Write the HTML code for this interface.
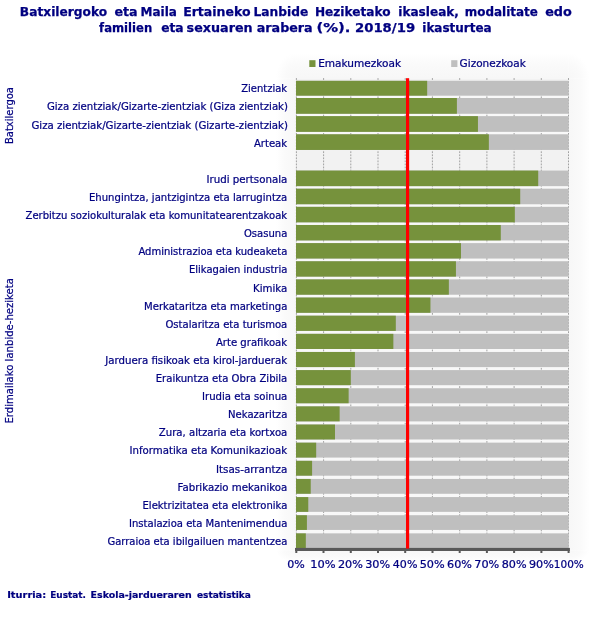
<!DOCTYPE html>
<html lang="eu"><head><meta charset="utf-8"><title>Batxilergoko eta Maila Ertaineko Lanbide Heziketako ikasleak</title>
<style>html,body{margin:0;padding:0;background:#fff}svg{display:block}text{font-family:"DejaVu Sans","Liberation Sans",sans-serif;fill:#000080}.t{font-weight:bold;font-size:12px;stroke:#000080;stroke-width:.25px}.l{font-size:10px;stroke:#000080;stroke-width:.22px}.f{font-weight:bold;font-size:9.33px;stroke:#000080;stroke-width:.2px}</style></head><body>
<svg width="612" height="621" viewBox="0 0 612 621">
<defs><linearGradient id="gl" x1="1" y1="0" x2="0" y2="0"><stop offset="0" stop-color="#f7f7f7"/><stop offset=".55" stop-color="#fafafa"/><stop offset="1" stop-color="#fff"/></linearGradient><linearGradient id="gr" x1="0" y1="0" x2="1" y2="0"><stop offset="0" stop-color="#f7f7f7"/><stop offset=".55" stop-color="#fafafa"/><stop offset="1" stop-color="#fff"/></linearGradient><linearGradient id="gt" x1="0" y1="1" x2="0" y2="0"><stop offset="0" stop-color="#f7f7f7"/><stop offset=".55" stop-color="#fafafa"/><stop offset="1" stop-color="#fff"/></linearGradient><linearGradient id="gb" x1="0" y1="0" x2="0" y2="1"><stop offset="0" stop-color="#f7f7f7"/><stop offset=".55" stop-color="#fafafa"/><stop offset="1" stop-color="#fff"/></linearGradient><radialGradient id="c1" cx="1" cy="1" r="1"><stop offset="0" stop-color="#f7f7f7"/><stop offset=".55" stop-color="#fafafa"/><stop offset="1" stop-color="#fff"/></radialGradient><radialGradient id="c2" cx="0" cy="1" r="1"><stop offset="0" stop-color="#f7f7f7"/><stop offset=".55" stop-color="#fafafa"/><stop offset="1" stop-color="#fff"/></radialGradient><radialGradient id="c3" cx="1" cy="0" r="1"><stop offset="0" stop-color="#f7f7f7"/><stop offset=".55" stop-color="#fafafa"/><stop offset="1" stop-color="#fff"/></radialGradient><radialGradient id="c4" cx="0" cy="0" r="1"><stop offset="0" stop-color="#f7f7f7"/><stop offset=".55" stop-color="#fafafa"/><stop offset="1" stop-color="#fff"/></radialGradient></defs>
<rect width="612" height="621" fill="#fff"/>
<rect x="276.0" y="78.6" width="20.0" height="471.6" fill="url(#gl)"/>
<rect x="568.7" y="78.6" width="21.0" height="471.6" fill="url(#gr)"/>
<rect x="296.0" y="53.1" width="272.7" height="25.5" fill="url(#gt)"/>
<rect x="296.0" y="550.3" width="272.7" height="12.0" fill="url(#gb)"/>
<rect x="276.0" y="53.1" width="20.0" height="25.5" fill="url(#c1)"/>
<rect x="568.7" y="53.1" width="21.0" height="25.5" fill="url(#c2)"/>
<rect x="276.0" y="550.3" width="20.0" height="12.0" fill="url(#c3)"/>
<rect x="568.7" y="550.3" width="21.0" height="12.0" fill="url(#c4)"/>
<rect x="296.0" y="78.6" width="272.7" height="471.6" fill="#f2f2f2"/>
<rect x="296.0" y="95.66" width="272.7" height="2.34" fill="#f8f8f8"/>
<rect x="296.0" y="113.75" width="272.7" height="2.39" fill="#f8f8f8"/>
<rect x="296.0" y="131.85" width="272.7" height="2.43" fill="#f8f8f8"/>
<rect x="296.0" y="186.13" width="272.7" height="2.56" fill="#f8f8f8"/>
<rect x="296.0" y="204.23" width="272.7" height="2.61" fill="#f8f8f8"/>
<rect x="296.0" y="222.33" width="272.7" height="2.66" fill="#f8f8f8"/>
<rect x="296.0" y="240.42" width="272.7" height="2.70" fill="#f8f8f8"/>
<rect x="296.0" y="258.51" width="272.7" height="2.75" fill="#f8f8f8"/>
<rect x="296.0" y="276.61" width="272.7" height="2.79" fill="#f8f8f8"/>
<rect x="296.0" y="294.71" width="272.7" height="2.83" fill="#f8f8f8"/>
<rect x="296.0" y="312.80" width="272.7" height="2.88" fill="#f8f8f8"/>
<rect x="296.0" y="330.89" width="272.7" height="2.93" fill="#f8f8f8"/>
<rect x="296.0" y="348.99" width="272.7" height="2.97" fill="#f8f8f8"/>
<rect x="296.0" y="367.09" width="272.7" height="3.01" fill="#f8f8f8"/>
<rect x="296.0" y="385.18" width="272.7" height="3.06" fill="#f8f8f8"/>
<rect x="296.0" y="403.28" width="272.7" height="3.10" fill="#f8f8f8"/>
<rect x="296.0" y="421.37" width="272.7" height="3.15" fill="#f8f8f8"/>
<rect x="296.0" y="439.47" width="272.7" height="3.19" fill="#f8f8f8"/>
<rect x="296.0" y="457.56" width="272.7" height="3.24" fill="#f8f8f8"/>
<rect x="296.0" y="475.66" width="272.7" height="3.29" fill="#f8f8f8"/>
<rect x="296.0" y="493.75" width="272.7" height="3.33" fill="#f8f8f8"/>
<rect x="296.0" y="511.85" width="272.7" height="3.38" fill="#f8f8f8"/>
<rect x="296.0" y="529.94" width="272.7" height="3.42" fill="#f8f8f8"/>
<path d="M296.4 78.1V550.3M323.6 78.1V550.3M350.8 78.1V550.3M378.0 78.1V550.3M405.2 78.1V550.3M432.4 78.1V550.3M459.7 78.1V550.3M486.9 78.1V550.3M514.1 78.1V550.3M541.3 78.1V550.3M568.5 78.1V550.3" stroke="#a0a0a0" stroke-width="1" stroke-dasharray="1.8 1.25" fill="none"/>
<rect x="296.0" y="80.80" width="272.70" height="14.86" fill="#bfbfbf"/>
<rect x="296.0" y="80.80" width="131.17" height="14.86" fill="#76923c"/>
<rect x="296.0" y="98.00" width="272.70" height="15.76" fill="#bfbfbf"/>
<rect x="296.0" y="98.00" width="160.89" height="15.76" fill="#76923c"/>
<rect x="296.0" y="116.14" width="272.70" height="15.71" fill="#bfbfbf"/>
<rect x="296.0" y="116.14" width="181.95" height="15.71" fill="#76923c"/>
<rect x="296.0" y="134.28" width="272.70" height="15.67" fill="#bfbfbf"/>
<rect x="296.0" y="134.28" width="192.85" height="15.67" fill="#76923c"/>
<rect x="296.0" y="170.56" width="272.70" height="15.58" fill="#bfbfbf"/>
<rect x="296.0" y="170.56" width="242.21" height="15.58" fill="#76923c"/>
<rect x="296.0" y="188.70" width="272.70" height="15.53" fill="#bfbfbf"/>
<rect x="296.0" y="188.70" width="224.21" height="15.53" fill="#76923c"/>
<rect x="296.0" y="206.84" width="272.70" height="15.49" fill="#bfbfbf"/>
<rect x="296.0" y="206.84" width="218.84" height="15.49" fill="#76923c"/>
<rect x="296.0" y="224.98" width="272.70" height="15.44" fill="#bfbfbf"/>
<rect x="296.0" y="224.98" width="204.80" height="15.44" fill="#76923c"/>
<rect x="296.0" y="243.12" width="272.70" height="15.40" fill="#bfbfbf"/>
<rect x="296.0" y="243.12" width="164.98" height="15.40" fill="#76923c"/>
<rect x="296.0" y="261.26" width="272.70" height="15.35" fill="#bfbfbf"/>
<rect x="296.0" y="261.26" width="159.94" height="15.35" fill="#76923c"/>
<rect x="296.0" y="279.40" width="272.70" height="15.31" fill="#bfbfbf"/>
<rect x="296.0" y="279.40" width="152.85" height="15.31" fill="#76923c"/>
<rect x="296.0" y="297.54" width="272.70" height="15.26" fill="#bfbfbf"/>
<rect x="296.0" y="297.54" width="134.44" height="15.26" fill="#76923c"/>
<rect x="296.0" y="315.68" width="272.70" height="15.21" fill="#bfbfbf"/>
<rect x="296.0" y="315.68" width="99.81" height="15.21" fill="#76923c"/>
<rect x="296.0" y="333.82" width="272.70" height="15.17" fill="#bfbfbf"/>
<rect x="296.0" y="333.82" width="97.35" height="15.17" fill="#76923c"/>
<rect x="296.0" y="351.96" width="272.70" height="15.12" fill="#bfbfbf"/>
<rect x="296.0" y="351.96" width="58.90" height="15.12" fill="#76923c"/>
<rect x="296.0" y="370.10" width="272.70" height="15.08" fill="#bfbfbf"/>
<rect x="296.0" y="370.10" width="54.81" height="15.08" fill="#76923c"/>
<rect x="296.0" y="388.24" width="272.70" height="15.04" fill="#bfbfbf"/>
<rect x="296.0" y="388.24" width="52.63" height="15.04" fill="#76923c"/>
<rect x="296.0" y="406.38" width="272.70" height="14.99" fill="#bfbfbf"/>
<rect x="296.0" y="406.38" width="43.63" height="14.99" fill="#76923c"/>
<rect x="296.0" y="424.52" width="272.70" height="14.95" fill="#bfbfbf"/>
<rect x="296.0" y="424.52" width="39.00" height="14.95" fill="#76923c"/>
<rect x="296.0" y="442.66" width="272.70" height="14.90" fill="#bfbfbf"/>
<rect x="296.0" y="442.66" width="20.18" height="14.90" fill="#76923c"/>
<rect x="296.0" y="460.80" width="272.70" height="14.86" fill="#bfbfbf"/>
<rect x="296.0" y="460.80" width="16.09" height="14.86" fill="#76923c"/>
<rect x="296.0" y="478.94" width="272.70" height="14.81" fill="#bfbfbf"/>
<rect x="296.0" y="478.94" width="14.73" height="14.81" fill="#76923c"/>
<rect x="296.0" y="497.08" width="272.70" height="14.77" fill="#bfbfbf"/>
<rect x="296.0" y="497.08" width="12.27" height="14.77" fill="#76923c"/>
<rect x="296.0" y="515.22" width="272.70" height="14.72" fill="#bfbfbf"/>
<rect x="296.0" y="515.22" width="10.91" height="14.72" fill="#76923c"/>
<rect x="296.0" y="533.36" width="272.70" height="14.68" fill="#bfbfbf"/>
<rect x="296.0" y="533.36" width="9.82" height="14.68" fill="#76923c"/>
<rect x="295.0" y="547.9" width="274.9" height="3.1" fill="#595959"/>
<path d="M296.3 550v2.9M323.5 550v2.9M350.8 550v2.9M378.0 550v2.9M405.2 550v2.9M432.5 550v2.9M459.7 550v2.9M486.9 550v2.9M514.1 550v2.9M541.4 550v2.9M568.6 550v2.9" stroke="#595959" stroke-width="2" fill="none"/>
<rect x="406" y="78.2" width="3.15" height="470.4" fill="#ff0000"/>
<text class="l" x="241.25" y="92.3" textLength="45.88" lengthAdjust="spacingAndGlyphs">Zientziak</text>
<text class="l" x="46.93" y="110.4" textLength="241.04" lengthAdjust="spacingAndGlyphs">Giza zientziak/Gizarte-zientziak (Giza zientziak)</text>
<text class="l" x="31.43" y="128.5" textLength="256.55" lengthAdjust="spacingAndGlyphs">Giza zientziak/Gizarte-zientziak (Gizarte-zientziak)</text>
<text class="l" x="253.92" y="146.6" textLength="33.21" lengthAdjust="spacingAndGlyphs">Arteak</text>
<text class="l" x="206.49" y="182.8" textLength="80.84" lengthAdjust="spacingAndGlyphs">Irudi pertsonala</text>
<text class="l" x="89.01" y="200.9" textLength="198.30" lengthAdjust="spacingAndGlyphs">Ehungintza, jantzigintza eta larrugintza</text>
<text class="l" x="25.55" y="219.0" textLength="261.58" lengthAdjust="spacingAndGlyphs">Zerbitzu soziokulturalak eta komunitatearentzakoak</text>
<text class="l" x="243.94" y="237.1" textLength="43.37" lengthAdjust="spacingAndGlyphs">Osasuna</text>
<text class="l" x="138.42" y="255.2" textLength="148.88" lengthAdjust="spacingAndGlyphs">Administrazioa eta kudeaketa</text>
<text class="l" x="189.02" y="273.4" textLength="98.28" lengthAdjust="spacingAndGlyphs">Elikagaien industria</text>
<text class="l" x="253.00" y="291.5" textLength="34.32" lengthAdjust="spacingAndGlyphs">Kimika</text>
<text class="l" x="144.02" y="309.6" textLength="143.29" lengthAdjust="spacingAndGlyphs">Merkataritza eta marketinga</text>
<text class="l" x="165.43" y="327.7" textLength="121.88" lengthAdjust="spacingAndGlyphs">Ostalaritza eta turismoa</text>
<text class="l" x="215.92" y="345.8" textLength="71.21" lengthAdjust="spacingAndGlyphs">Arte grafikoak</text>
<text class="l" x="105.28" y="363.9" textLength="181.85" lengthAdjust="spacingAndGlyphs">Jarduera fisikoak eta kirol-jarduerak</text>
<text class="l" x="155.76" y="382.0" textLength="131.55" lengthAdjust="spacingAndGlyphs">Eraikuntza eta Obra Zibila</text>
<text class="l" x="202.00" y="400.1" textLength="85.32" lengthAdjust="spacingAndGlyphs">Irudia eta soinua</text>
<text class="l" x="228.02" y="418.2" textLength="59.30" lengthAdjust="spacingAndGlyphs">Nekazaritza</text>
<text class="l" x="158.80" y="436.3" textLength="128.52" lengthAdjust="spacingAndGlyphs">Zura, altzaria eta kortxoa</text>
<text class="l" x="129.51" y="454.4" textLength="157.62" lengthAdjust="spacingAndGlyphs">Informatika eta Komunikazioak</text>
<text class="l" x="215.99" y="472.5" textLength="71.35" lengthAdjust="spacingAndGlyphs">Itsas-arrantza</text>
<text class="l" x="177.51" y="490.6" textLength="109.80" lengthAdjust="spacingAndGlyphs">Fabrikazio mekanikoa</text>
<text class="l" x="142.52" y="508.7" textLength="144.79" lengthAdjust="spacingAndGlyphs">Elektrizitatea eta elektronika</text>
<text class="l" x="129.01" y="526.8" textLength="158.30" lengthAdjust="spacingAndGlyphs">Instalazioa eta Mantenimendua</text>
<text class="l" x="107.44" y="544.9" textLength="179.86" lengthAdjust="spacingAndGlyphs">Garraioa eta ibilgailuen mantentzea</text>
<text class="l" x="287.17" y="567.5" textLength="17.54" lengthAdjust="spacingAndGlyphs">0%</text>
<text class="l" x="310.27" y="567.5" textLength="25.38" lengthAdjust="spacingAndGlyphs">10%</text>
<text class="l" x="337.97" y="567.5" textLength="24.94" lengthAdjust="spacingAndGlyphs">20%</text>
<text class="l" x="365.20" y="567.5" textLength="24.98" lengthAdjust="spacingAndGlyphs">30%</text>
<text class="l" x="392.79" y="567.5" textLength="24.65" lengthAdjust="spacingAndGlyphs">40%</text>
<text class="l" x="419.73" y="567.5" textLength="24.99" lengthAdjust="spacingAndGlyphs">50%</text>
<text class="l" x="447.09" y="567.5" textLength="24.90" lengthAdjust="spacingAndGlyphs">60%</text>
<text class="l" x="474.22" y="567.5" textLength="25.05" lengthAdjust="spacingAndGlyphs">70%</text>
<text class="l" x="501.65" y="567.5" textLength="24.88" lengthAdjust="spacingAndGlyphs">80%</text>
<text class="l" x="528.98" y="567.5" textLength="24.82" lengthAdjust="spacingAndGlyphs">90%</text>
<text class="l" x="553.85" y="567.5" textLength="29.93" lengthAdjust="spacingAndGlyphs">100%</text>
<rect x="309.3" y="60.2" width="6.2" height="6.8" fill="#76923c"/>
<text class="l" x="318.17" y="67" textLength="82.96" lengthAdjust="spacingAndGlyphs">Emakumezkoak</text>
<rect x="451.2" y="60.2" width="6.2" height="6.8" fill="#bfbfbf"/>
<text class="l" x="459.61" y="67" textLength="66.12" lengthAdjust="spacingAndGlyphs">Gizonezkoak</text>
<text class="l" transform="translate(13.1 143.1) rotate(-90)" x="-0.98" textLength="57.08" lengthAdjust="spacingAndGlyphs">Batxilergoa</text>
<text class="l" transform="translate(13.1 422.6) rotate(-90)" x="-0.98" textLength="145.49" lengthAdjust="spacingAndGlyphs">Erdimailako lanbide-heziketa</text>
<text class="t" y="16.3"><tspan x="19.88" textLength="87.34" lengthAdjust="spacingAndGlyphs">Batxilergoko</tspan> <tspan x="114.45" textLength="23.24" lengthAdjust="spacingAndGlyphs">eta</tspan> <tspan x="140.60" textLength="36.34" lengthAdjust="spacingAndGlyphs">Maila</tspan> <tspan x="183.16" textLength="67.38" lengthAdjust="spacingAndGlyphs">Ertaineko</tspan> <tspan x="253.58" textLength="54.71" lengthAdjust="spacingAndGlyphs">Lanbide</tspan> <tspan x="314.90" textLength="75.62" lengthAdjust="spacingAndGlyphs">Heziketako</tspan> <tspan x="398.29" textLength="60.65" lengthAdjust="spacingAndGlyphs">ikasleak,</tspan> <tspan x="464.71" textLength="73.17" lengthAdjust="spacingAndGlyphs">modalitate</tspan> <tspan x="545.15" textLength="26.70" lengthAdjust="spacingAndGlyphs">edo</tspan></text>
<text class="t" y="32.3"><tspan x="99.08" textLength="53.13" lengthAdjust="spacingAndGlyphs">familien</tspan> <tspan x="161.17" textLength="22.49" lengthAdjust="spacingAndGlyphs">eta</tspan> <tspan x="186.64" textLength="66.05" lengthAdjust="spacingAndGlyphs">sexuaren</tspan> <tspan x="256.75" textLength="55.94" lengthAdjust="spacingAndGlyphs">arabera</tspan> <tspan x="316.42" textLength="34.09" lengthAdjust="spacingAndGlyphs">(%).</tspan> <tspan x="354.95" textLength="60.20" lengthAdjust="spacingAndGlyphs">2018/19</tspan> <tspan x="422.29" textLength="69.35" lengthAdjust="spacingAndGlyphs">ikasturtea</tspan></text>
<text class="f" y="598.0"><tspan x="7.20" textLength="39.00" lengthAdjust="spacingAndGlyphs">Iturria:</tspan> <tspan x="50.18" textLength="35.84" lengthAdjust="spacingAndGlyphs">Eustat.</tspan> <tspan x="90.64" textLength="101.00" lengthAdjust="spacingAndGlyphs">Eskola-jardueraren</tspan> <tspan x="197.01" textLength="53.89" lengthAdjust="spacingAndGlyphs">estatistika</tspan></text>
</svg></body></html>
